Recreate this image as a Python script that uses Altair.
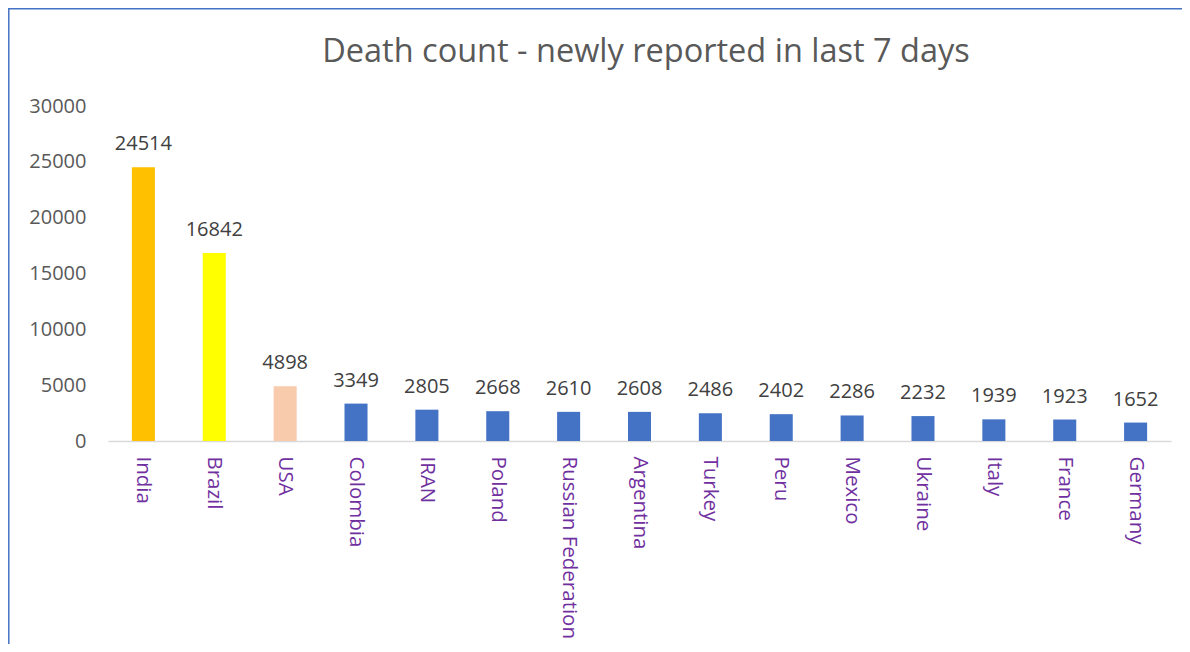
import altair as alt
import pandas as pd

countries = ["India", "Brazil", "USA", "Colombia", "IRAN", "Poland", "Russian Federation",
             "Argentina", "Turkey", "Peru", "Mexico", "Ukraine", "Italy", "France", "Germany"]
deaths = [24514, 16842, 4898, 3349, 2805, 2668, 2610, 2608, 2486, 2402, 2286, 2232, 1939, 1923, 1652]
colors = ["#FFC000", "#FFFF00", "#F8CBAD"] + ["#4472C4"] * 12
y_ticks = [0, 5000, 10000, 15000, 20000, 25000, 30000]
title_text = "Death count - newly reported in last 7 days"

df = pd.DataFrame({"country": countries, "deaths": deaths, "color": colors})

FONT = "Open Sans"

x_enc = alt.X("country:N", sort=None, title=None,
              scale=alt.Scale(paddingInner=0.675, paddingOuter=0.337),
              axis=alt.Axis(labelAngle=90, labelColor="#7030A0", labelFontSize=20.5,
                            labelFont=FONT, ticks=False, labelPadding=15, labelLimit=0,
                            domainColor="#D9D9D9", domainWidth=1.5, labelAlign="left",
                            labelBaseline="middle"))
y_enc = alt.Y("deaths:Q", title=None,
              scale=alt.Scale(domain=[0, 30000], nice=False),
              axis=alt.Axis(values=y_ticks, format="d", grid=False, domain=False, ticks=False,
                            labelPadding=22, labelColor="#595959", labelFontSize=20,
                            labelFont=FONT))

base = alt.Chart(df)
bars = base.mark_bar().encode(x=x_enc, y=y_enc, color=alt.Color("color:N", scale=None))
labels = base.mark_text(dy=-17, baseline="alphabetic", fontSize=20, font=FONT,
                        color="#404040").encode(x=alt.X("country:N", sort=None),
                                                y="deaths:Q", text="deaths:Q")

one = alt.Data(values=[{"a": 1}])
title = alt.Chart(pd.DataFrame({"t": [title_text]})).mark_text(
    fontSize=32.5, font=FONT, color="#595959", baseline="alphabetic", align="center"
).encode(text="t:N", x=alt.value(538), y=alt.value(-44))

left_border = alt.Chart(one).mark_rule(color="#4472C4", strokeWidth=1.5).encode(
    x=alt.value(-99.2), y=alt.value(-97.5), y2=alt.value(546))
top_border = alt.Chart(one).mark_rule(color="#4472C4", strokeWidth=1.5).encode(
    x=alt.value(-100), x2=alt.value(1082), y=alt.value(-97.2))

chart = alt.layer(bars, labels, title, left_border, top_border).properties(
    width=1063, height=335,
    padding={"left": 100, "top": 98, "right": 11, "bottom": 203},
    autosize=alt.AutoSizeParams(type="none"),
).configure_view(stroke=None)

chart.save("out.html", embed_options={"renderer": "svg", "actions": False})
